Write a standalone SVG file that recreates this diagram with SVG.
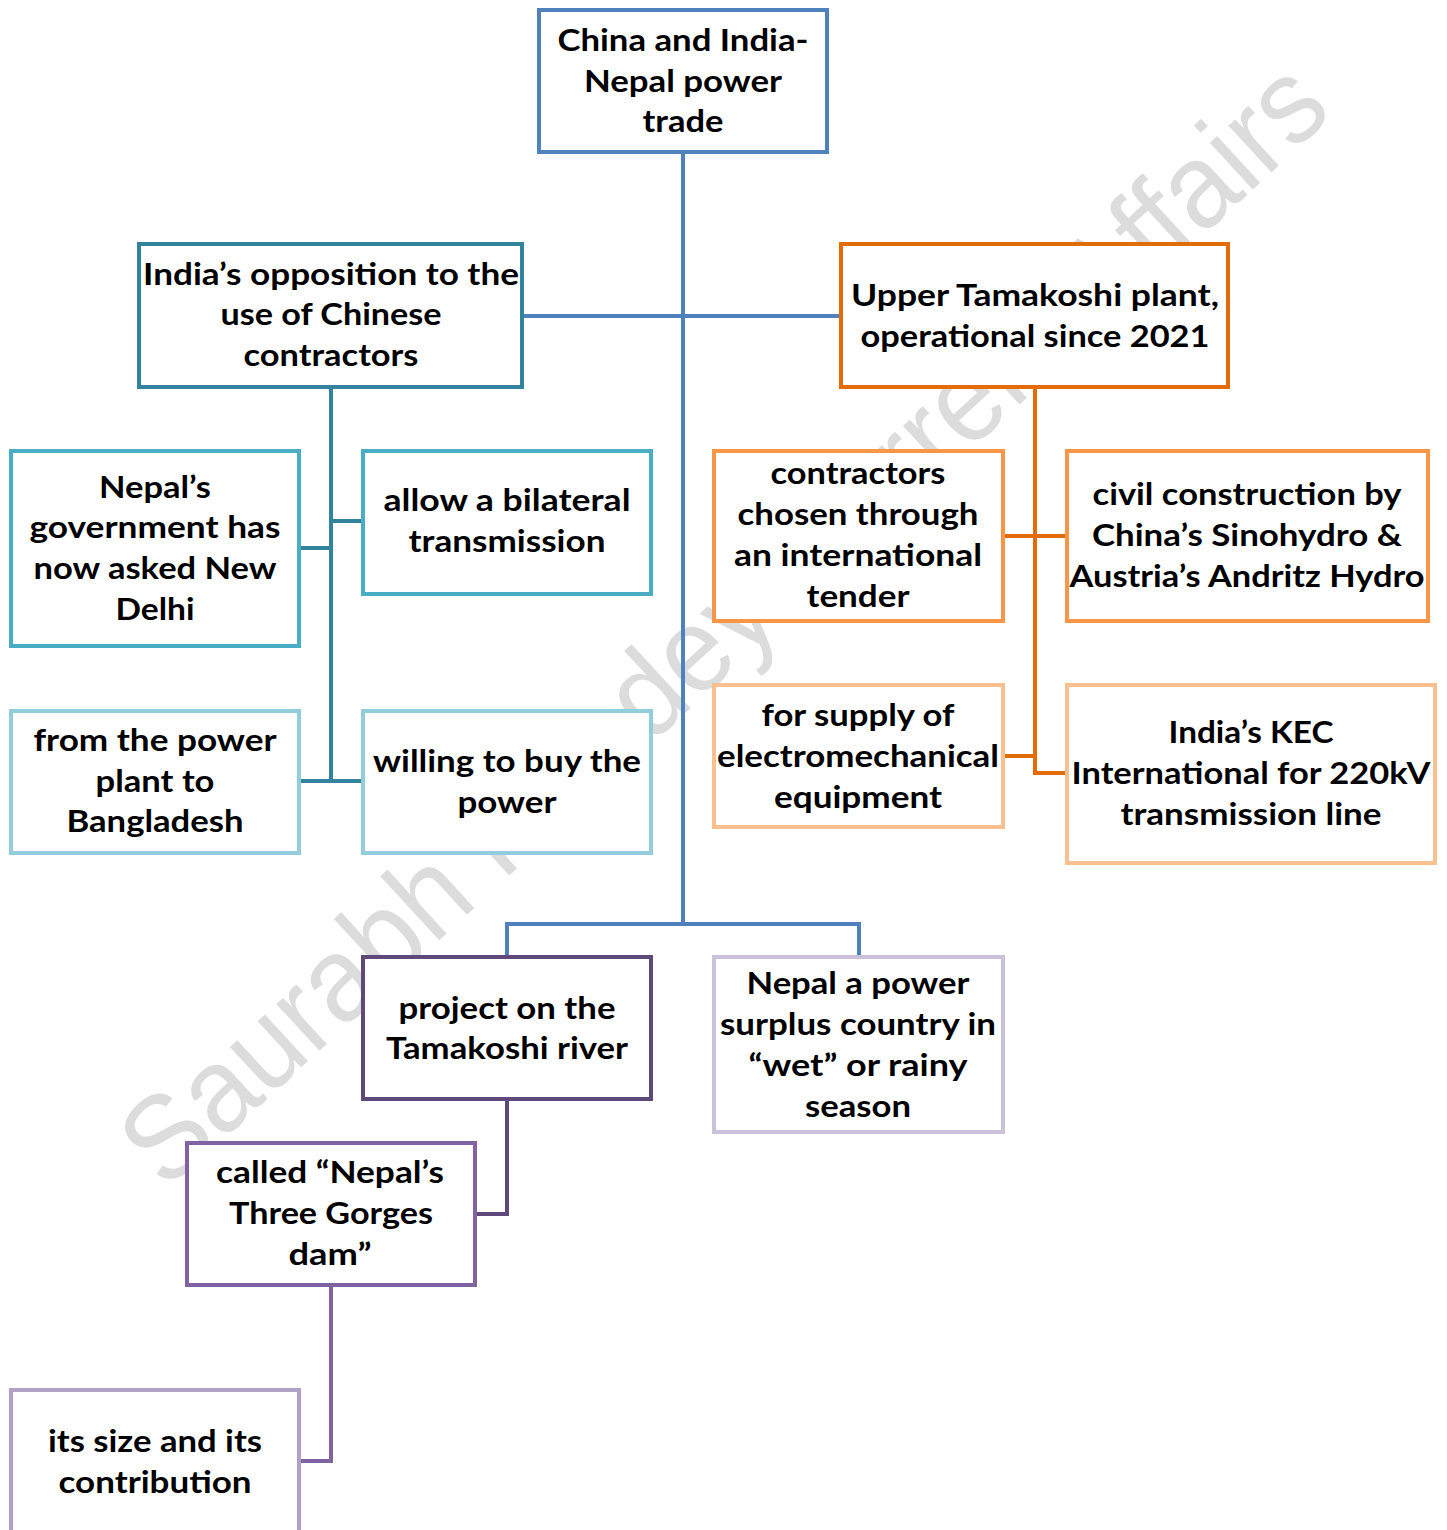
<svg xmlns="http://www.w3.org/2000/svg" width="1447" height="1530" viewBox="0 0 1447 1530">
<style>
.bg{fill:#ffffff}
.wm{font-family:"Liberation Sans","Open Sans",sans-serif;font-size:120px;fill:#dcdcdc}
.box{fill:#ffffff;stroke-width:4}
.t{font-family:Lato,"Liberation Sans",sans-serif;font-weight:bold;font-size:30px;fill:#000000;text-anchor:middle}
.c{fill:none;stroke-width:4}
</style>
<rect class="bg" x="0" y="0" width="1447" height="1530"/>
<text class="wm" transform="translate(722,622) rotate(-42.7)" x="0" y="42" text-anchor="middle" textLength="1590" lengthAdjust="spacingAndGlyphs">Saurabh Pandey Current Affairs</text>

<g id="connectors">
  <path class="c" stroke="#4f81bd" d="M683 154 V924 M524 316 H839 M507 957 V924 H859 V957"/>
  <path class="c" stroke="#31849b" d="M331 389 V781 M331 521 H361 M301 548 H331 M301 781 H361"/>
  <path class="c" stroke="#e36c09" d="M1035 389 V773 H1065 M1005 536 H1065 M1005 756 H1035"/>
  <path class="c" stroke="#5f497a" d="M507 1101 V1214 H477"/>
  <path class="c" stroke="#8064a2" d="M331 1287 V1461 H301"/>
</g>

<g id="root">
  <rect class="box" stroke="#4f81bd" x="539" y="10" width="288" height="142"/>
  <text class="t" x="683" y="51" textLength="251" lengthAdjust="spacingAndGlyphs">China and India-</text>
  <text class="t" x="683" y="92" textLength="198" lengthAdjust="spacingAndGlyphs">Nepal power</text>
  <text class="t" x="683" y="132" textLength="81" lengthAdjust="spacingAndGlyphs">trade</text>
</g>

<g id="opposition">
  <rect class="box" stroke="#31849b" x="139" y="244" width="383" height="143"/>
  <text class="t" x="331" y="285" textLength="376" lengthAdjust="spacingAndGlyphs">India’s opposition to the</text>
  <text class="t" x="331" y="325" textLength="221" lengthAdjust="spacingAndGlyphs">use of Chinese</text>
  <text class="t" x="331" y="366" textLength="175" lengthAdjust="spacingAndGlyphs">contractors</text>
</g>

<g id="upper-tamakoshi">
  <rect class="box" stroke="#e36c09" x="841" y="244" width="387" height="143"/>
  <text class="t" x="1035" y="306" textLength="368" lengthAdjust="spacingAndGlyphs">Upper Tamakoshi plant,</text>
  <text class="t" x="1035" y="347" textLength="349" lengthAdjust="spacingAndGlyphs">operational since 2021</text>
</g>

<g id="nepal-government">
  <rect class="box" stroke="#4bacc6" x="11" y="451" width="288" height="195"/>
  <text class="t" x="155" y="498" textLength="112" lengthAdjust="spacingAndGlyphs">Nepal’s</text>
  <text class="t" x="155" y="538" textLength="251" lengthAdjust="spacingAndGlyphs">government has</text>
  <text class="t" x="155" y="579" textLength="243" lengthAdjust="spacingAndGlyphs">now asked New</text>
  <text class="t" x="155" y="620" textLength="79" lengthAdjust="spacingAndGlyphs">Delhi</text>
</g>

<g id="allow-bilateral">
  <rect class="box" stroke="#4bacc6" x="363" y="451" width="288" height="143"/>
  <text class="t" x="507" y="511" textLength="247" lengthAdjust="spacingAndGlyphs">allow a bilateral</text>
  <text class="t" x="507" y="552" textLength="197" lengthAdjust="spacingAndGlyphs">transmission</text>
</g>

<g id="from-power-plant">
  <rect class="box" stroke="#92cddc" x="11" y="711" width="288" height="142"/>
  <text class="t" x="155" y="751" textLength="243" lengthAdjust="spacingAndGlyphs">from the power</text>
  <text class="t" x="155" y="792" textLength="119" lengthAdjust="spacingAndGlyphs">plant to</text>
  <text class="t" x="155" y="832" textLength="177" lengthAdjust="spacingAndGlyphs">Bangladesh</text>
</g>

<g id="willing-to-buy">
  <rect class="box" stroke="#92cddc" x="363" y="711" width="288" height="142"/>
  <text class="t" x="507" y="772" textLength="268" lengthAdjust="spacingAndGlyphs">willing to buy the</text>
  <text class="t" x="507" y="813" textLength="99" lengthAdjust="spacingAndGlyphs">power</text>
</g>

<g id="contractors-tender">
  <rect class="box" stroke="#f79646" x="714" y="451" width="289" height="170"/>
  <text class="t" x="858" y="484" textLength="175" lengthAdjust="spacingAndGlyphs">contractors</text>
  <text class="t" x="858" y="525" textLength="241" lengthAdjust="spacingAndGlyphs">chosen through</text>
  <text class="t" x="858" y="566" textLength="248" lengthAdjust="spacingAndGlyphs">an international</text>
  <text class="t" x="858" y="607" textLength="103" lengthAdjust="spacingAndGlyphs">tender</text>
</g>

<g id="civil-construction">
  <rect class="box" stroke="#f79646" x="1067" y="451" width="361" height="170"/>
  <text class="t" x="1247" y="505" textLength="309" lengthAdjust="spacingAndGlyphs">civil construction by</text>
  <text class="t" x="1247" y="546" textLength="310" lengthAdjust="spacingAndGlyphs">China’s Sinohydro &amp;</text>
  <text class="t" x="1247" y="587" textLength="355" lengthAdjust="spacingAndGlyphs">Austria’s Andritz Hydro</text>
</g>

<g id="electromechanical">
  <rect class="box" stroke="#fac08f" x="714" y="685" width="289" height="142"/>
  <text class="t" x="858" y="726" textLength="193" lengthAdjust="spacingAndGlyphs">for supply of</text>
  <text class="t" x="858" y="767" textLength="282" lengthAdjust="spacingAndGlyphs">electromechanical</text>
  <text class="t" x="858" y="808" textLength="168" lengthAdjust="spacingAndGlyphs">equipment</text>
</g>

<g id="kec">
  <rect class="box" stroke="#fac08f" x="1067" y="685" width="368" height="178"/>
  <text class="t" x="1251" y="743" textLength="165" lengthAdjust="spacingAndGlyphs">India’s KEC</text>
  <text class="t" x="1251" y="784" textLength="359" lengthAdjust="spacingAndGlyphs">International for 220kV</text>
  <text class="t" x="1251" y="825" textLength="261" lengthAdjust="spacingAndGlyphs">transmission line</text>
</g>

<g id="project-tamakoshi">
  <rect class="box" stroke="#5f497a" x="363" y="957" width="288" height="142"/>
  <text class="t" x="507" y="1019" textLength="217" lengthAdjust="spacingAndGlyphs">project on the</text>
  <text class="t" x="507" y="1059" textLength="242" lengthAdjust="spacingAndGlyphs">Tamakoshi river</text>
</g>

<g id="power-surplus">
  <rect class="box" stroke="#ccc1da" x="714" y="957" width="289" height="175"/>
  <text class="t" x="858" y="994" textLength="223" lengthAdjust="spacingAndGlyphs">Nepal a power</text>
  <text class="t" x="858" y="1035" textLength="276" lengthAdjust="spacingAndGlyphs">surplus country in</text>
  <text class="t" x="858" y="1076" textLength="219" lengthAdjust="spacingAndGlyphs">“wet” or rainy</text>
  <text class="t" x="858" y="1117" textLength="106" lengthAdjust="spacingAndGlyphs">season</text>
</g>

<g id="three-gorges">
  <rect class="box" stroke="#8064a2" x="187" y="1143" width="288" height="142"/>
  <text class="t" x="330" y="1183" textLength="228" lengthAdjust="spacingAndGlyphs">called “Nepal’s</text>
  <text class="t" x="331" y="1224" textLength="204" lengthAdjust="spacingAndGlyphs">Three Gorges</text>
  <text class="t" x="330" y="1265" textLength="83" lengthAdjust="spacingAndGlyphs">dam”</text>
</g>

<g id="size-contribution">
  <rect class="box" stroke="#b2a1c7" x="11" y="1390" width="288" height="170"/>
  <text class="t" x="155" y="1452" textLength="214" lengthAdjust="spacingAndGlyphs">its size and its</text>
  <text class="t" x="155" y="1493" textLength="193" lengthAdjust="spacingAndGlyphs">contribution</text>
</g>
</svg>
